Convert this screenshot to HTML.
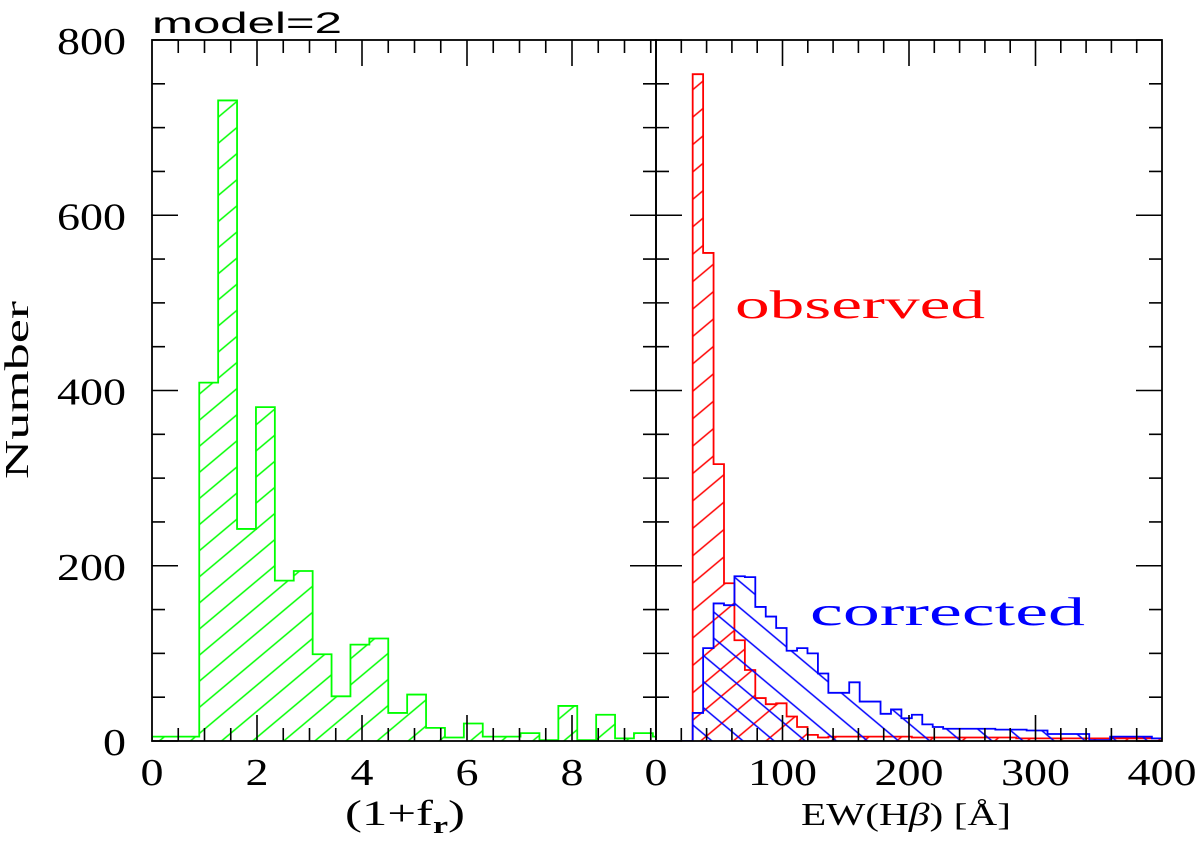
<!DOCTYPE html>
<html><head><meta charset="utf-8"><style>
html,body{margin:0;padding:0;background:#fff;}
svg{display:block;font-family:"Liberation Serif","DejaVu Serif",serif;}
</style></head><body>
<svg id="chart" width="1200" height="865" viewBox="0 0 1200 865" xmlns="http://www.w3.org/2000/svg">
<defs>
<pattern id="hatchG" width="20" height="20" patternUnits="userSpaceOnUse" patternTransform="rotate(-40)"><line x1="0" y1="10" x2="20" y2="10" stroke="#00ff00" stroke-width="1.6"/></pattern>
<pattern id="hatchR" width="21" height="21" patternUnits="userSpaceOnUse" patternTransform="rotate(-40)"><line x1="0" y1="10" x2="21" y2="10" stroke="#ff0000" stroke-width="1.6"/></pattern>
<pattern id="hatchB" width="20" height="20" patternUnits="userSpaceOnUse" patternTransform="rotate(40)"><line x1="0" y1="10" x2="20" y2="10" stroke="#0000ff" stroke-width="1.6"/></pattern>
<clipPath id="clipL"><rect x="152" y="40" width="504" height="701"/></clipPath>
<clipPath id="clipR"><rect x="656" y="40" width="506" height="701"/></clipPath>
</defs>
<g id="marks"></g>
<g id="axes"></g>
<text x="152" y="33" font-size="30" textLength="190" lengthAdjust="spacingAndGlyphs" font-family="Liberation Sans, sans-serif">model=2</text>
<text transform="translate(28,390) rotate(-90)" text-anchor="middle" font-size="34" textLength="178" lengthAdjust="spacingAndGlyphs">Number</text>
<text x="345" y="825" font-size="36" textLength="120" lengthAdjust="spacingAndGlyphs">(1+f<tspan font-size="24" dy="8" font-weight="bold">r</tspan><tspan dy="-8">)</tspan></text>
<text x="906" y="825" text-anchor="middle" font-size="32" textLength="210" lengthAdjust="spacingAndGlyphs">EW(H<tspan font-style="italic">β</tspan>) [Å]</text>
<text x="735" y="318" font-size="40" fill="#ff0000" textLength="250" lengthAdjust="spacingAndGlyphs">observed</text>
<text x="810" y="625" font-size="40" fill="#0000ff" textLength="275" lengthAdjust="spacingAndGlyphs">corrected</text>
</svg>
<script>
// Left panel: (1+f_r) histogram, bins of width 0.18 starting at 0
const greenStart = 0;
const greenWidth = 0.18;
const greenCounts = [5,5,5,5,5,409,409,731,731,242,242,381,381,183,183,194,194,99,99,51,51,110,110,117,117,32,32,53,53,15,15,4,4,20,20,5,5,5,5,9,9,1,1,40,40,1,1,30,30,3,3,9,9,5];
// Right panel: EW(Hbeta) histograms, bins width 8.25 starting at 29
const ewStart = 29;
const ewWidth = 8.25;
const observedCounts = [761,557,316,180,115,81,49,42,43,28,16,7,4,5,5,5,5,5,5,5,5,4,4,4,4,4,4,4,4,4,4,3,3,3,3,3,3,3,3,3,3,3,3,3,3];
const correctedCounts = [32,106,157,155,188,187,153,142,129,103,106,100,77,55,55,67,45,45,31,36,26,30,19,16,14,14,14,14,14,13,13,13,12,12,8,8,8,8,1,1,5,5,5,5,3];
const yTicks = [0,200,400,600,800];
const xTicksLeft = [0,2,4,6,8];
const xTicksRight = [0,100,200,300,400];

const NS = "http://www.w3.org/2000/svg";
const Y0 = 741, Y1 = 40, YMAX = 800;
const yScale = v => Y0 - (v / YMAX) * (Y0 - Y1);
const xLeft = v => 152 + v * 52.5;
const xRight = v => 656 + v * 1.265;

const marks = document.getElementById('marks');
const axes = document.getElementById('axes');

function mk(tag, attrs, parent) {
  const e = document.createElementNS(NS, tag);
  for (const k in attrs) e.setAttribute(k, attrs[k]);
  parent.appendChild(e);
  return e;
}

function histPath(start, width, counts, xs, leadFrom) {
  let d = '';
  const x0 = xs(start);
  if (leadFrom !== undefined) d += 'M' + xs(leadFrom) + ',' + yScale(0) + 'H' + x0 + 'V' + yScale(counts[0]);
  else d += 'M' + x0 + ',' + yScale(0) + 'V' + yScale(counts[0]);
  for (let i = 0; i < counts.length; i++) {
    const xe = xs(start + (i + 1) * width);
    d += 'H' + xe;
    if (i + 1 < counts.length) d += 'V' + yScale(counts[i + 1]);
  }
  return d;
}

function drawHist(name, start, width, counts, xs, color, pattern, clip, leadFrom) {
  const g = mk('g', {'clip-path': 'url(#' + clip + ')'}, marks);
  
  
  const outline = histPath(start, width, counts, xs, leadFrom);
  const fill = mk('path', {d: outline + 'V' + yScale(0) + 'Z', fill: 'url(#' + pattern + ')', stroke: 'none'}, g);
  
  
  const line = mk('path', {d: outline + 'V' + yScale(0), fill: 'none', stroke: color, 'stroke-width': 1.8}, g);
  
  
}

drawHist('green-histogram', greenStart, greenWidth, greenCounts, xLeft, '#00ff00', 'hatchG', 'clipL');
drawHist('observed-histogram', ewStart, ewWidth, observedCounts, xRight, '#ff0000', 'hatchR', 'clipR');
drawHist('corrected-histogram', ewStart, ewWidth, correctedCounts, xRight, '#0000ff', 'hatchB', 'clipR', 0);

const frameStyle = {fill: 'none', stroke: '#000', 'stroke-width': 1.8};
const fl = mk('rect', Object.assign({x: 152, y: 40, width: 504, height: 701}, frameStyle), axes);


const fr = mk('rect', Object.assign({x: 656, y: 40, width: 506, height: 701}, frameStyle), axes);



function tick(x1, y1, x2, y2, name) {
  const t = mk('line', {x1, y1, x2, y2, stroke: '#000', 'stroke-width': 1.6}, axes);
  
  
}
for (let v = 0; v <= YMAX; v += 50) {
  const y = yScale(v);
  const L = (v % 200 === 0) ? 26 : 13;
  tick(152, y, 152 + L, y, 'y-tick');
  tick(656 - L, y, 656 + L, y, 'y-tick-mid');
  tick(1162 - L, y, 1162, y, 'y-tick-right');
}
for (let v = 0.5; v < 9.6; v += 0.5) {
  const x = xLeft(v);
  const L = (Math.abs(v % 2) < 1e-6) ? 26 : 13;
  tick(x, 741, x, 741 - L, 'x-tick-left');
  tick(x, 40, x, 40 + L, 'x-tick-left-top');
}
for (let v = 20; v < 400; v += 20) {
  const x = xRight(v);
  const L = (v % 100 === 0) ? 26 : 13;
  tick(x, 741, x, 741 - L, 'x-tick-right');
  tick(x, 40, x, 40 + L, 'x-tick-right-top');
}
function lbl(x, y, anchor, v, name) {
  const t = mk('text', {x: x, y: y, 'text-anchor': anchor, 'font-size': 38, textLength: String(v).length * 23, lengthAdjust: 'spacingAndGlyphs'}, axes);
  
  
  t.textContent = v;
}
yTicks.forEach(v => lbl(126, yScale(v) + 14, 'end', v, 'y-tick-label'));
xTicksLeft.forEach(v => lbl(xLeft(v), 785, 'middle', v, 'x-tick-label-left'));
xTicksRight.forEach(v => lbl(xRight(v), 785, 'middle', v, 'x-tick-label-right'));
</script>
</body></html>
